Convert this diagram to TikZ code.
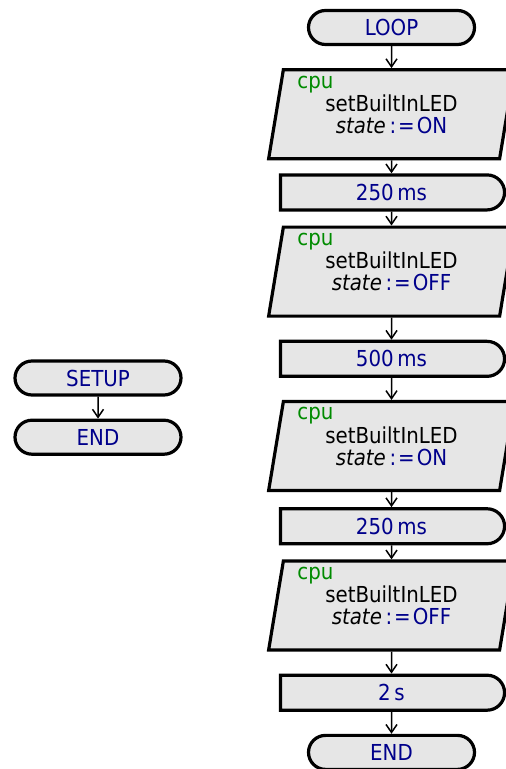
\documentclass[tikz,border=0pt]{standalone}
\usepackage{fontspec}
\setmainfont{DejaVu Sans Condensed}
\usepackage{xcolor}
\usepackage{tikz}
\usetikzlibrary{shapes.geometric,shapes.misc,arrows.meta,positioning}
\definecolor{valblue}{RGB}{0,0,139}
\definecolor{cpugreen}{RGB}{0,139,0}
\definecolor{boxgray}{RGB}{230,230,230}

\begin{document}
\begin{tikzpicture}[x=0.5pt, y=-0.5pt, font=\fontsize{11}{11}\selectfont, >={Straight Barb[length=4pt,width=5.5pt]}]
\tikzset{
  base/.style={draw, line width=1.6pt, fill=boxgray, align=center, inner sep=0pt},
  terminal/.style={base, rounded rectangle, minimum width=83pt, minimum height=17pt, text=valblue},
  delaybox/.style={base, rounded rectangle, rounded rectangle left arc=none, minimum width=112pt, minimum height=17.5pt, text=valblue},
  action/.style={base, trapezium, trapezium left angle=77, trapezium right angle=103, trapezium stretches=true, minimum width=123pt, minimum height=44.5pt},
  cpulabel/.style={text=cpugreen, anchor=base west, inner sep=0pt},
  arrow/.style={->, line width=0.75pt},
}
\useasboundingbox (0,0) rectangle (505,769);

% Setup branch
\node (setup) [terminal] at (98,378) {SETUP};
\node (setupend) [terminal, below=11pt of setup] {END};
\draw[arrow] (setup) -- (setupend);

% Loop branch
\node (loop) [terminal] at (391.5,27.5) {LOOP};
\node (led1) [action, below=11pt of loop] {setBuiltInLED\\\textit{state}\,\textcolor{valblue}{:\kern1pt=\kern1pt ON}};
\node (wait1) [delaybox, below=6.5pt of led1] {250\,ms};
\node (led2) [action, below=7pt of wait1] {setBuiltInLED\\\textit{state}\,\textcolor{valblue}{:\kern1pt=\kern1pt OFF}};
\node (wait2) [delaybox, below=11pt of led2] {500\,ms};
\node (led3) [action, below=11pt of wait2] {setBuiltInLED\\\textit{state}\,\textcolor{valblue}{:\kern1pt=\kern1pt ON}};
\node (wait3) [delaybox, below=7.5pt of led3] {250\,ms};
\node (led4) [action, below=7pt of wait3] {setBuiltInLED\\\textit{state}\,\textcolor{valblue}{:\kern1pt=\kern1pt OFF}};
\node (wait4) [delaybox, below=11pt of led4] {2\,s};
\node (loopend) [terminal, below=11pt of wait4] {END};

% Device labels
\node (cpu1) [cpulabel] at ([xshift=7.5pt,yshift=-10pt]led1.top left corner) {cpu};
\node (cpu2) [cpulabel] at ([xshift=7.5pt,yshift=-10pt]led2.top left corner) {cpu};
\node (cpu3) [cpulabel] at ([xshift=7.5pt,yshift=-10pt]led3.top left corner) {cpu};
\node (cpu4) [cpulabel] at ([xshift=7.5pt,yshift=-10pt]led4.top left corner) {cpu};

% Arrows
\draw[arrow] (loop) -- (led1);
\draw[arrow] (led1) -- (wait1);
\draw[arrow] (wait1) -- (led2);
\draw[arrow] (led2) -- (wait2);
\draw[arrow] (wait2) -- (led3);
\draw[arrow] (led3) -- (wait3);
\draw[arrow] (wait3) -- (led4);
\draw[arrow] (led4) -- (wait4);
\draw[arrow] (wait4) -- (loopend);

\end{tikzpicture}
\end{document}
